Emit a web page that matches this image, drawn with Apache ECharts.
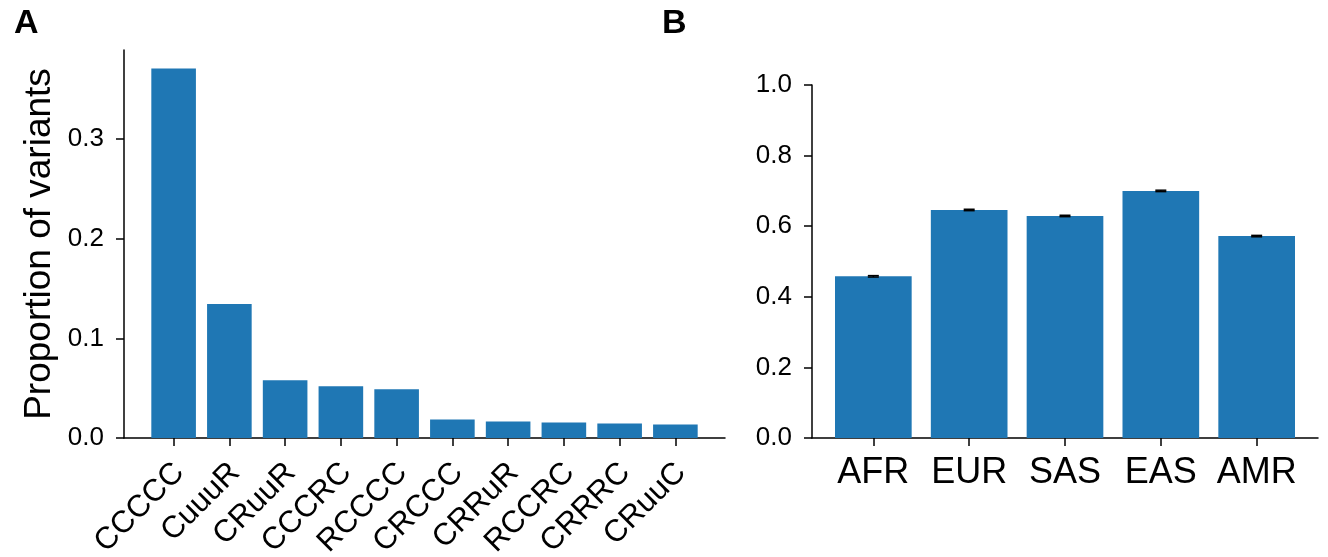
<!DOCTYPE html>
<html>
<head>
<meta charset="utf-8">
<script src="https://cdn.jsdelivr.net/npm/echarts@6/dist/echarts.min.js"></script>
<style>
  html, body { margin: 0; padding: 0; background: #fff; }
  #chart { width: 1328px; height: 557px; }
</style>
</head>
<body>
<div id="chart"></div>
<script>
// Panel A: share of variants by pattern
const patterns = ['CCCCC', 'CuuuR', 'CRuuR', 'CCCRC', 'RCCCC', 'CRCCC', 'CRRuR', 'RCCRC', 'CRRRC', 'CRuuC'];
const proportions = [0.371, 0.1345, 0.058, 0.052, 0.049, 0.0185, 0.0165, 0.0155, 0.0145, 0.0135];
const ticksA = [0, 0.1, 0.2, 0.3];

// Panel B: per-population means with error bars
const populations = ['AFR', 'EUR', 'SAS', 'EAS', 'AMR'];
const popMeans = [0.458, 0.646, 0.629, 0.700, 0.572];
const popErrors = [0.002, 0.002, 0.002, 0.002, 0.002];
const ticksB = [0, 0.2, 0.4, 0.6, 0.8, 1.0];

const FONT = "'Liberation Sans', Arial, sans-serif";
const BLUE = '#1f77b4';
const SPINE = { show: true, onZero: false, lineStyle: { color: '#000', width: 1.5 } };
const TICK = { show: true, length: 8, lineStyle: { color: '#000', width: 1.5 } };

// grid geometry (px)
const gA = { left: 124, top: 50, width: 601, height: 388 };
const gB = { left: 812, top: 85, width: 506, height: 353 };

// x extents: bars span [i-0.4, i+0.4], padded by 5% on each side
function xExtent(n) {
  const lo = -0.4, hi = n - 1 + 0.4, pad = 0.05 * (hi - lo);
  return [lo - pad, hi + pad];
}
const xA = xExtent(patterns.length);
const xB = xExtent(populations.length);
const barWA = 0.8 * gA.width / (xA[1] - xA[0]);
const barWB = 0.8 * gB.width / (xB[1] - xB[0]);
const yMaxA = Math.max(...proportions) * 1.05;

const idx = (arr) => arr.map((_, i) => i);
// rotated labels sit slightly right of their tick, anchored at the text end
const rotatedLabelPos = patterns.map((_, i) => i + 0.1);

const chart = echarts.init(document.getElementById('chart'), null, { renderer: 'canvas' });
chart.setOption({
  animation: false,
  textStyle: { fontFamily: FONT, color: '#000' },
  title: [
    { text: 'A', left: 9, top: 2, textStyle: { fontFamily: FONT, fontSize: 34, fontWeight: 'bold', color: '#000' } },
    { text: 'B', left: 657, top: 2, textStyle: { fontFamily: FONT, fontSize: 34, fontWeight: 'bold', color: '#000' } }
  ],
  grid: [
    Object.assign({ containLabel: false, outerBoundsMode: 'none' }, gA),
    Object.assign({ containLabel: false, outerBoundsMode: 'none' }, gB)
  ],
  xAxis: [
    {
      gridIndex: 0, type: 'value', min: xA[0], max: xA[1],
      splitLine: { show: false },
      axisLine: SPINE,
      axisTick: Object.assign({ customValues: idx(patterns) }, TICK),
      axisLabel: {
        customValues: rotatedLabelPos,
        formatter: (v) => patterns[Math.round(v)],
        rotate: 45, margin: 30, fontSize: 31, color: '#000', fontFamily: FONT
      }
    },
    {
      gridIndex: 1, type: 'value', min: xB[0], max: xB[1],
      splitLine: { show: false },
      axisLine: SPINE,
      axisTick: Object.assign({ customValues: idx(populations) }, TICK),
      axisLabel: {
        customValues: idx(populations),
        formatter: (v) => populations[Math.round(v)],
        margin: 17, fontSize: 36, color: '#000', fontFamily: FONT
      }
    }
  ],
  yAxis: [
    {
      gridIndex: 0, type: 'value', min: 0, max: yMaxA,
      name: 'Proportion of variants', nameLocation: 'middle', nameGap: 66,
      nameTextStyle: { fontSize: 37, color: '#000', fontFamily: FONT },
      splitLine: { show: false },
      axisLine: SPINE,
      axisTick: Object.assign({ customValues: ticksA }, TICK),
      axisLabel: { customValues: ticksA, formatter: (v) => v.toFixed(1), margin: 20, fontSize: 26, color: '#000', fontFamily: FONT }
    },
    {
      gridIndex: 1, type: 'value', min: 0, max: 1,
      splitLine: { show: false },
      axisLine: SPINE,
      axisTick: Object.assign({ customValues: ticksB }, TICK),
      axisLabel: { customValues: ticksB, formatter: (v) => v.toFixed(1), margin: 20, fontSize: 26, color: '#000', fontFamily: FONT }
    }
  ],
  series: [
    {
      type: 'bar', xAxisIndex: 0, yAxisIndex: 0,
      barWidth: barWA,
      itemStyle: { color: BLUE },
      data: proportions.map((v, i) => [i, v])
    },
    {
      type: 'bar', xAxisIndex: 1, yAxisIndex: 1,
      barWidth: barWB,
      itemStyle: { color: BLUE },
      data: popMeans.map((v, i) => [i, v])
    },
    {
      // error bars: vertical whisker with caps
      type: 'custom', xAxisIndex: 1, yAxisIndex: 1, z: 5,
      data: popMeans.map((v, i) => [i, v, popErrors[i]]),
      renderItem: (params, api) => {
        const i = api.value(0), m = api.value(1), e = api.value(2);
        const hi = api.coord([i, m + e]);
        const lo = api.coord([i, m - e]);
        const cap = 5.5;
        const style = { stroke: '#000', lineWidth: 1.5, fill: null };
        return {
          type: 'group',
          children: [
            { type: 'line', shape: { x1: hi[0], y1: hi[1], x2: lo[0], y2: lo[1] }, style },
            { type: 'line', shape: { x1: hi[0] - cap, y1: hi[1], x2: hi[0] + cap, y2: hi[1] }, style },
            { type: 'line', shape: { x1: lo[0] - cap, y1: lo[1], x2: lo[0] + cap, y2: lo[1] }, style }
          ]
        };
      }
    }
  ]
});
</script>
</body>
</html>
